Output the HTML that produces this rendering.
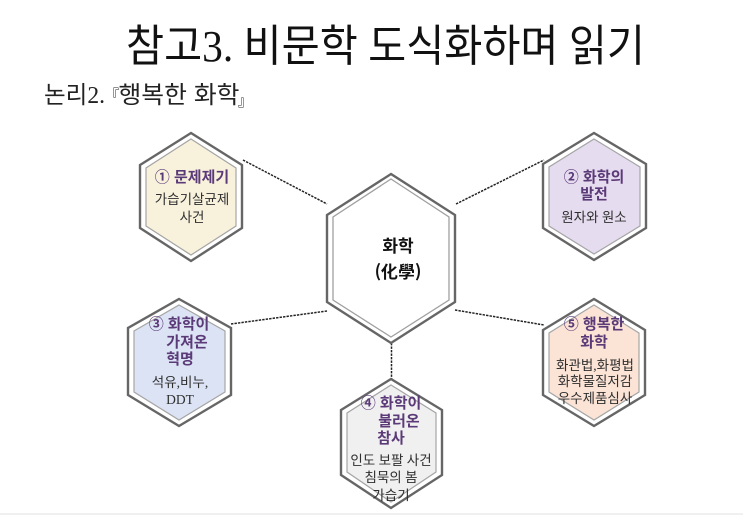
<!DOCTYPE html>
<html lang="ko">
<head>
<meta charset="utf-8">
<style>
html,body{margin:0;padding:0;background:#fff;width:743px;height:515px;overflow:hidden}
svg{display:block;filter:blur(.35px)}
text{font-family:"Liberation Sans","Noto Sans CJK KR",sans-serif;text-anchor:middle}
.k{font-family:"Noto Sans CJK KR",sans-serif}
.s{font-family:"Liberation Serif","Noto Sans CJK KR",serif}
.h{font-size:15px;font-weight:700;fill:#5b3a78;font-family:"Noto Sans CJK KR",sans-serif}
.b{font-size:13.5px;fill:#2e2e2e;font-family:"Liberation Serif","Noto Sans CJK KR",serif}
.o{fill:#fff;stroke:#666;stroke-width:2.4}
.i{stroke:#a5a5a5;stroke-width:1.2}
.d{stroke:#222;stroke-width:1.5;stroke-dasharray:2.4 1.1;fill:none}
</style>
</head>
<body>
<svg width="743" height="515" viewBox="0 0 743 515" xmlns="http://www.w3.org/2000/svg">
<rect width="743" height="515" fill="#fff"/>
<rect y="513" width="743" height="2" fill="#f0f0f0"/>

<text x="385.5" y="61" font-size="44" fill="#111" class="s" textLength="519" lengthAdjust="spacingAndGlyphs">참고3. 비문학 도식화하며 읽기</text>
<text x="74.500" y="103" font-size="24" fill="#222" class="s" textLength="61" lengthAdjust="spacingAndGlyphs">논리2.</text>
<text x="112" y="100" font-size="14" fill="#222" class="k">『</text>
<text x="179" y="103" font-size="24" fill="#222" class="k" textLength="121" lengthAdjust="spacingAndGlyphs">행복한 화학</text>
<text x="245" y="106" font-size="14" fill="#222" class="k">』</text>

<line class="d" x1="243" y1="160" x2="327" y2="204"/>
<line class="d" x1="456" y1="204" x2="544" y2="160"/>
<line class="d" x1="231" y1="324" x2="327" y2="311"/>
<line class="d" x1="455" y1="310" x2="544" y2="325"/>
<line class="d" x1="391.500" y1="343" x2="391.500" y2="379"/>

<polygon class="o" points="391,174 455,215 455,302 391,343 327,302 327,215"/>
<polygon fill="#fff" stroke="#a0a0a0" stroke-width="1.3" points="391,179 449,217 449,300 391,337 333,300 333,217"/>
<text x="398" y="252" font-size="17" font-weight="700" fill="#111" class="k">화학</text>
<text x="398" y="278" font-size="17" font-weight="700" fill="#111" class="k">(化學)</text>

<polygon class="o" points="191,133 242,165 242,228 191,261 140,228 140,165"/>
<polygon class="i" fill="#f8f2dd" points="191,139 236,168 236,226 191,255 146,226 146,168"/>
<text x="192" y="182" class="h">① 문제제기</text>
<text x="192" y="204" class="b">가습기살균제</text>
<text x="192" y="222" class="b">사건</text>

<polygon class="o" points="594,133 646,164 646,228 594,260 543,228 543,164"/>
<polygon class="i" fill="#e6dcef" points="594,139 640,167 640,226 594,254 549,226 549,167"/>
<text x="594" y="182" class="h">② 화학의</text>
<text x="594" y="199" class="h">발전</text>
<text x="594" y="222" class="b">원자와 원소</text>

<polygon class="o" points="179,299 231,328 231,395 179,426 128,395 128,328"/>
<polygon class="i" fill="#dce3f4" points="179,305 225,331 225,392 179,420 134,392 134,331"/>
<text x="179" y="329" class="h">③ 화학이</text>
<text x="187" y="347" class="h">가져온</text>
<text x="180" y="364" class="h">혁명</text>
<text x="180" y="387" class="b">석유,비누,</text>
<text x="180" y="404" class="b">DDT</text>

<polygon class="o" points="391,379 442,410 442,475 391,508 341,475 341,410"/>
<polygon class="i" fill="#f0f0f0" points="391,385 436,413 436,472 391,502 347,472 347,413"/>
<text x="391" y="408" class="h">④ 화학이</text>
<text x="399" y="426" class="h">불러온</text>
<text x="391" y="443" class="h">참사</text>
<text x="391" y="465" class="b">인도 보팔 사건</text>
<text x="391" y="482" class="b">침묵의 봄</text>
<text x="391" y="500" class="b">가습기</text>

<polygon class="o" points="594,299 645,330 645,395 594,426 543,395 543,330"/>
<polygon class="i" fill="#fbe3d6" points="594,305 639,333 639,392 594,420 549,392 549,333"/>
<text x="594" y="329" class="h">⑤ 행복한</text>
<text x="594" y="347" class="h">화학</text>
<text x="595" y="370" class="b">화관법,화평법</text>
<text x="595" y="386" class="b">화학물질저감</text>
<text x="595" y="403" class="b">우수제품심사</text>
</svg>
</body>
</html>
